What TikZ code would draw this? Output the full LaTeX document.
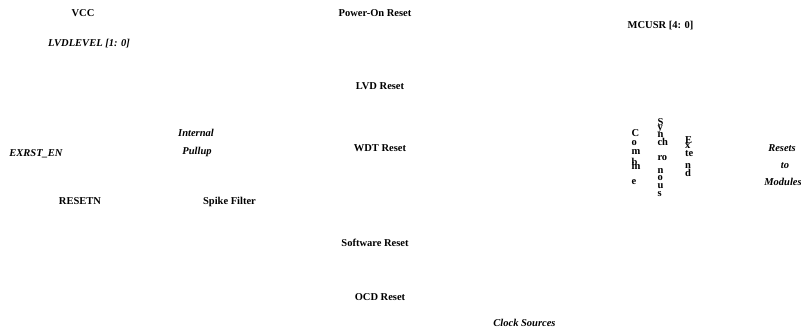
\documentclass[tikz,border=0pt]{standalone}
\usepackage{fontspec}
\setmainfont{Liberation Serif}
\tikzset{
  lbl/.style={inner sep=0pt, anchor=base, font=\fontsize{10.5}{12}\selectfont\bfseries},
  ilbl/.style={lbl, font=\fontsize{10.5}{12}\selectfont\bfseries\itshape},
  frag/.style={lbl, anchor=base west}
}
\begin{document}
\begin{tikzpicture}[x=1pt,y=-1pt]
\useasboundingbox (0,0) rectangle (801,335);
% left column
\node[lbl]  (vcc)   at (83,16.5)   {VCC};
\node[ilbl] (lvdl)  at (89,46.5)   {LVDLEVEL [1: 0]};
\node[ilbl] (exrst) at (36,156.5)  {EXRST\_EN};
\node[ilbl] (int)   at (196,136.5) {Internal};
\node[ilbl] (pull)  at (197,154.5) {Pullup};
\node[lbl]  (rstn)  at (80,204.5)  {RESETN};
\node[lbl]  (spike) at (229.5,204.5) {Spike Filter};
% reset sources
\node[lbl]  (por)   at (375,16.5)  {Power-On Reset};
\node[lbl]  (lvd)   at (380,89.5)  {LVD Reset};
\node[lbl]  (wdt)   at (380,151.5) {WDT Reset};
\node[lbl]  (sw)    at (375,246.5) {Software Reset};
\node[lbl]  (ocd)   at (380,300.5) {OCD Reset};
\node[ilbl] (clk)   at (524.5,326.5) {Clock Sources};
% register
\node[lbl]  (mcusr) at (660.5,28.5) {MCUSR [4: 0]};
% Combine
\node[frag] (c1) at (631.5,136.5) {C};
\node[frag] (c2) at (631.5,145.5) {o};
\node[frag] (c3) at (631.5,154.5) {m};
\node[frag] (c4) at (631.5,165)   {b\llap{\raisebox{-4.5pt}{\rlap{in}}\phantom{b}}};
\node[frag] (c6) at (631.5,184)   {e};
% Synchronous
\node[frag] (s1) at (657.3,125)   {S};
\node[frag] (s2) at (657.3,130.5) {y};
\node[frag] (s3) at (657.3,137.2) {n};
\node[frag] (s4) at (657.3,145.7) {ch};
\node[frag] (s5) at (657.3,160.7) {ro};
\node[frag] (s6) at (657.3,173.3) {n};
\node[frag] (s7) at (657.3,180)   {o};
\node[frag] (s8) at (657.3,188)   {u};
\node[frag] (s9) at (657.3,196.7) {s};
% Extend
\node[frag] (e1) at (685,143)   {E};
\node[frag] (e2) at (685,148.3) {x};
\node[frag] (e3) at (685,156.7) {te};
\node[frag] (e4) at (685,168)   {n};
\node[frag] (e5) at (685,176.7) {d};
% output
\node[ilbl] (res)  at (782,151.5) {Resets};
\node[ilbl] (to)   at (785,168.5) {to};
\node[ilbl] (mod)  at (783,185.5) {Modules};
\end{tikzpicture}
\end{document}
